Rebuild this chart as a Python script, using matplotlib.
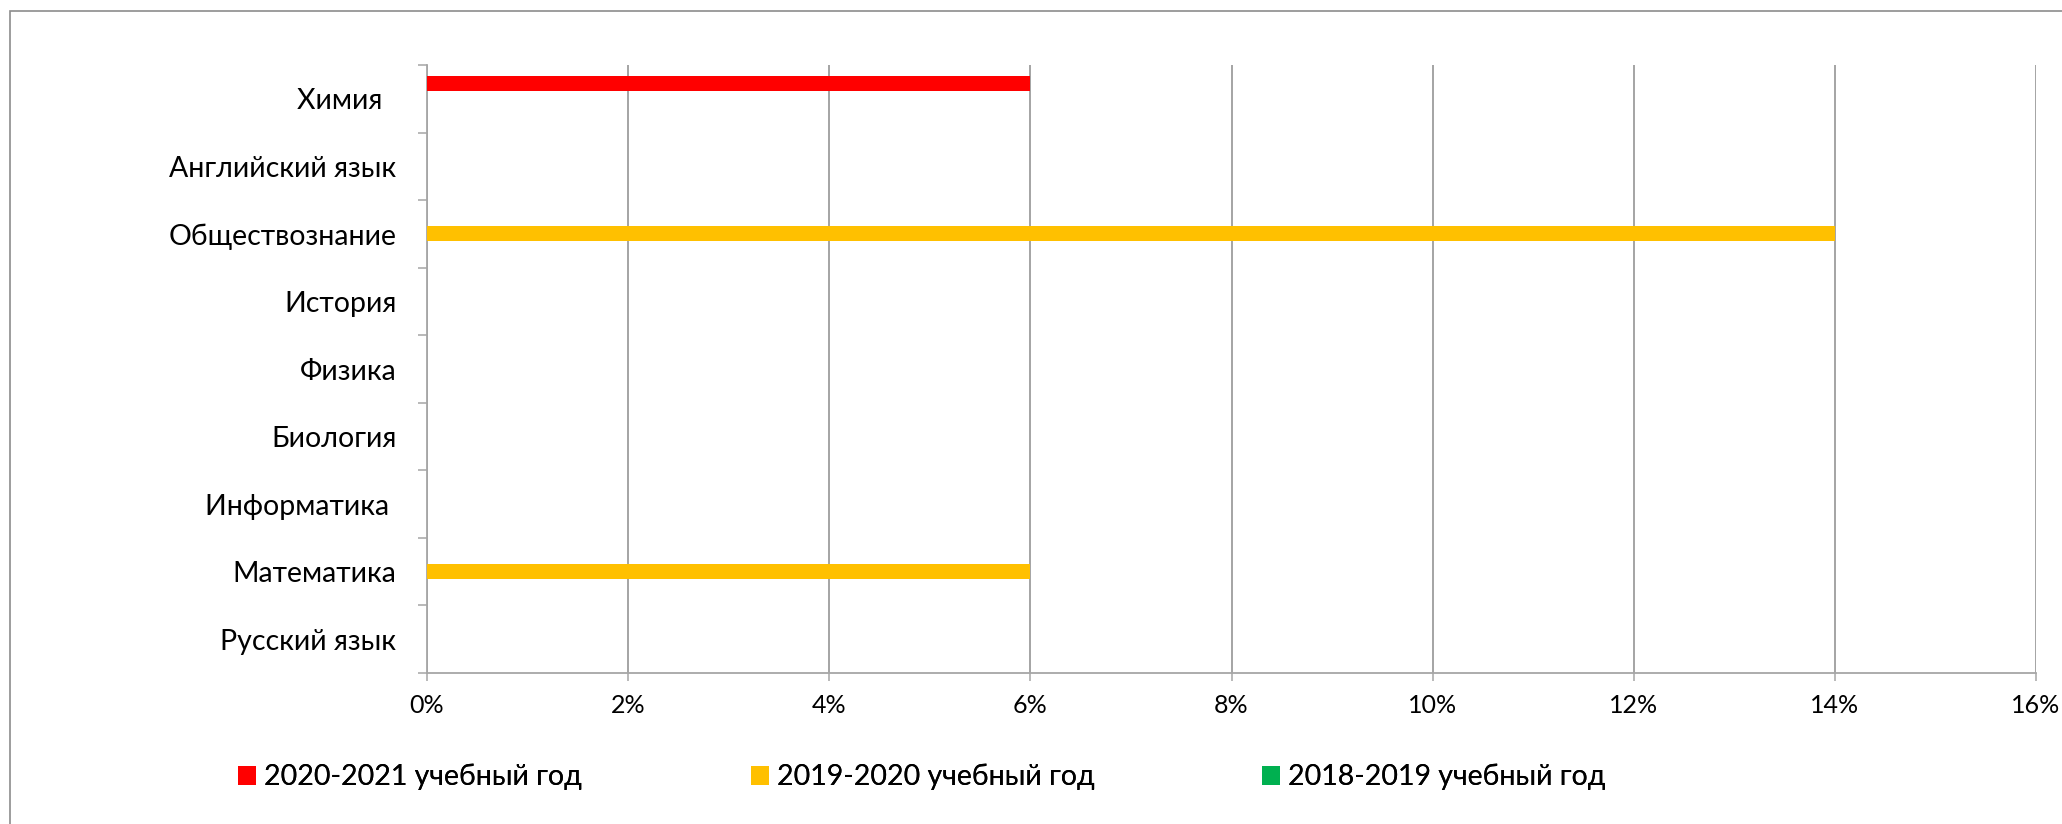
import matplotlib
matplotlib.use("Agg")
import matplotlib.pyplot as plt
from matplotlib.patches import Rectangle
from matplotlib.ticker import PercentFormatter, FixedLocator, NullFormatter
import numpy as np

# ---- data ----
categories = ["Русский язык", "Математика", "Информатика ", "Биология", "Физика",
              "История", "Обществознание", "Английский язык", "Химия  "]
series_names = ["2020-2021 учебный год", "2019-2020 учебный год", "2018-2019 учебный год"]
values_2020_2021 = [0, 0, 0, 0, 0, 0, 0, 0, 6]
values_2019_2020 = [0, 6, 0, 0, 0, 0, 14, 0, 0]
values_2018_2019 = [0, 0, 0, 0, 0, 0, 0, 0, 0]
x_ticks = [0, 2, 4, 6, 8, 10, 12, 14, 16]

colors = ["#FF0000", "#FFC000", "#00B050"]

W, H = 2062, 824
plt.rcParams['font.family'] = ['Lato', 'DejaVu Sans']
fig = plt.figure(figsize=(W / 100, H / 100), dpi=100)
ax = fig.add_axes([427 / W, 1 - 673 / H, (2036 - 427) / W, (673 - 65) / H])

y = np.arange(len(categories))
h = 1 / 4.5
all_series = [values_2020_2021, values_2019_2020, values_2018_2019]
offsets = [h, 0, -h]
handles = []
for vals, off, col, name in zip(all_series, offsets, colors, series_names):
    b = ax.barh(y + off, vals, height=h, color=col, label=name, zorder=3, linewidth=0)
    handles.append(b)

ax.set_xlim(0, 16)
ax.set_ylim(-0.5, len(categories) - 0.5)
ax.set_xticks(x_ticks)
ax.xaxis.set_major_formatter(PercentFormatter(xmax=100, decimals=0))
ax.grid(axis='x', color='#8c8c8c', linewidth=1.1, zorder=0)
ax.grid(axis='y', visible=False)

# y ticks: marks at category boundaries, labels at centers
ax.yaxis.set_major_locator(FixedLocator(np.arange(-0.5, len(categories), 1.0)))
ax.yaxis.set_major_formatter(NullFormatter())
ax.yaxis.set_minor_locator(FixedLocator(y))
ax.set_yticklabels(categories, minor=True)
ax.tick_params(axis='y', which='major', length=6.5, width=1.1, color='#a6a6a6', direction='out')
ax.tick_params(axis='y', which='minor', length=0, pad=22, labelsize=20.5)
ax.tick_params(axis='x', which='major', length=6, width=1.1, color='#a6a6a6', direction='out',
               pad=9, labelsize=18)

for s in ['top', 'right']:
    ax.spines[s].set_visible(False)
for s in ['left', 'bottom']:
    ax.spines[s].set_color('#a6a6a6')
    ax.spines[s].set_linewidth(1.3)

# outer chart border
fig.add_artist(Rectangle((10 / W, -0.2), 1.5, 1 - 11 / H + 0.2, transform=fig.transFigure,
                         fill=False, edgecolor='#8c8c8c', linewidth=1.2, clip_on=False))

# legend: three entries placed in a row
leg_x = [238, 751, 1262]
for hnd, name, lx in zip(handles, series_names, leg_x):
    lg = fig.legend([hnd], [name], loc='center left', bbox_to_anchor=(lx / W, 1 - 777 / H),
                    frameon=False, fontsize=20.5, handlelength=0.63, handleheight=0.63,
                    handletextpad=0.28, borderpad=0, borderaxespad=0)
    fig.add_artist(lg)

fig.savefig("out.png", dpi=100, facecolor='white')
